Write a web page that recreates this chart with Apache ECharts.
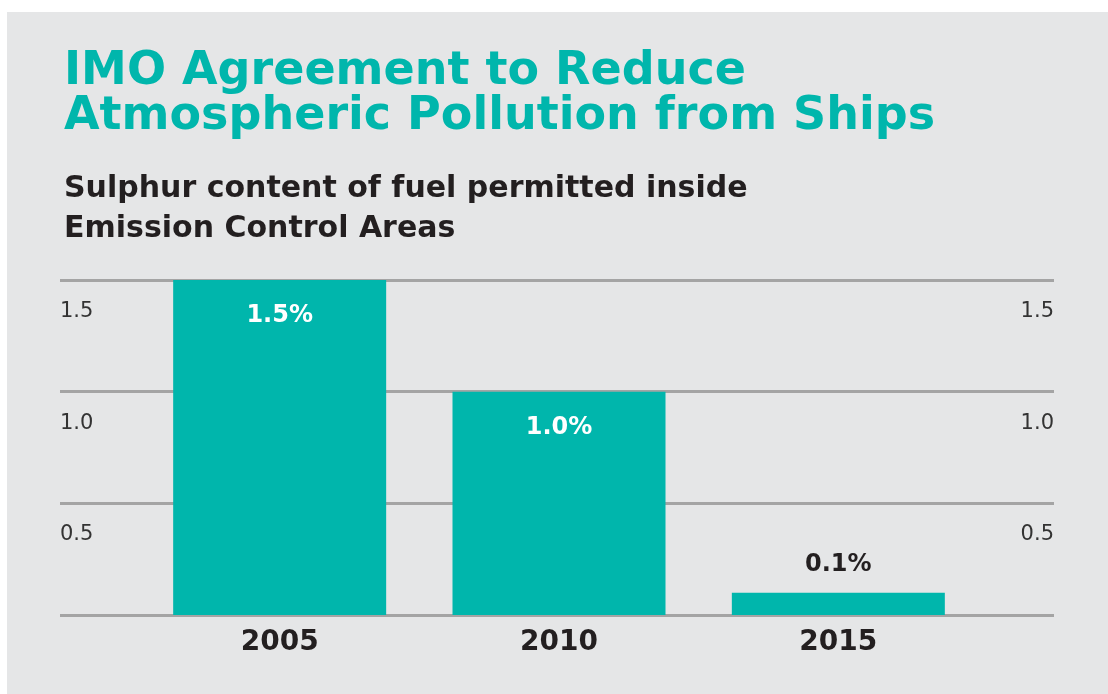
<!DOCTYPE html>
<html>
<head>
<meta charset="utf-8">
<script src="https://cdn.jsdelivr.net/npm/echarts@6/dist/echarts.min.js"></script>
<style>
  html, body { margin: 0; padding: 0; background: #ffffff; }
  #chart { width: 1108px; height: 694px; }
</style>
</head>
<body>
<div id="chart"></div>
<script>
// Sulphur limits for fuel used inside Emission Control Areas (%)
const years = ['2005', '2010', '2015'];
const sulphurLimit = [1.5, 1.0, 0.1];

// Value-axis ticks and the text shown for them
const yTicks = [0, 0.5, 1.0, 1.5];
const yTickLabels = ['', '0.5', '1.0', '1.5'];

const titleLines = ['IMO Agreement to Reduce', 'Atmospheric Pollution from Ships'];
const subtitleLines = ['Sulphur content of fuel permitted inside', 'Emission Control Areas'];

const TEAL = '#00b6ac';
const DARK = '#231f20';
const GRID_LINE = '#a4a4a4';
const FONT = 'DejaVu Sans';

function tickText(v) {
  const i = yTicks.findIndex(t => Math.abs(t - v) < 1e-9);
  return i >= 0 ? yTickLabels[i] : '';
}

// Tall bars carry their label inside in white; short ones get it above.
const barData = sulphurLimit.map(v => ({
  value: v,
  label: v >= 0.5
    ? { position: 'insideTop', distance: 24, color: '#ffffff' }
    : { position: 'top', distance: 16, color: DARK }
}));

const chart = echarts.init(document.getElementById('chart'), null, { renderer: 'canvas' });

const scaleLabel = {
  inside: true,
  margin: 0,
  verticalAlign: 'top',
  padding: [21, 0, 0, 0],
  fontFamily: FONT,
  fontSize: 21,
  color: '#333333',
  formatter: tickText
};

chart.setOption({
  backgroundColor: '#ffffff',
  animation: false,
  graphic: [{
    type: 'rect',
    z: -100,
    silent: true,
    shape: { x: 7, y: 12, width: 1101, height: 682 },
    style: { fill: '#e5e6e7' }
  }],
  title: [{
    text: titleLines.join('\n'),
    left: 64,
    top: 50,
    padding: 0,
    textStyle: { fontFamily: FONT, fontWeight: 'bold', fontSize: 46, lineHeight: 45, color: TEAL }
  }, {
    text: subtitleLines.join('\n'),
    left: 64,
    top: 169,
    padding: 0,
    textStyle: { fontFamily: FONT, fontWeight: 'bold', fontSize: 30, lineHeight: 40, color: DARK }
  }],
  grid: [
    // full-width grid for the reference lines and scale labels
    { left: 60, right: 54, top: 280, bottom: 79 },
    // narrower grid holding the bars
    { left: 140, right: 130, top: 280, bottom: 79 }
  ],
  xAxis: [{
    type: 'category',
    gridIndex: 0,
    data: years,
    show: false
  }, {
    type: 'category',
    gridIndex: 1,
    data: years,
    axisLine: { show: false },
    axisTick: { show: false },
    axisLabel: {
      margin: 14,
      fontFamily: FONT,
      fontWeight: 'bold',
      fontSize: 28,
      color: DARK
    }
  }],
  yAxis: [{
    type: 'value',
    gridIndex: 0,
    position: 'left',
    min: 0,
    max: 1.5,
    interval: 0.5,
    axisLine: { show: false },
    axisTick: { show: false },
    splitLine: { show: true, lineStyle: { color: GRID_LINE, width: 3 } },
    axisLabel: scaleLabel
  }, {
    type: 'value',
    gridIndex: 0,
    position: 'right',
    min: 0,
    max: 1.5,
    interval: 0.5,
    axisLine: { show: false },
    axisTick: { show: false },
    splitLine: { show: false },
    axisLabel: scaleLabel
  }, {
    type: 'value',
    gridIndex: 1,
    min: 0,
    max: 1.5,
    interval: 0.5,
    show: false
  }],
  series: [{
    type: 'bar',
    xAxisIndex: 1,
    yAxisIndex: 2,
    data: barData,
    barWidth: 213,
    itemStyle: { color: TEAL },
    label: {
      show: true,
      fontFamily: FONT,
      fontWeight: 'bold',
      fontSize: 24,
      formatter: p => p.value.toFixed(1) + '%'
    }
  }]
});
</script>
</body>
</html>
